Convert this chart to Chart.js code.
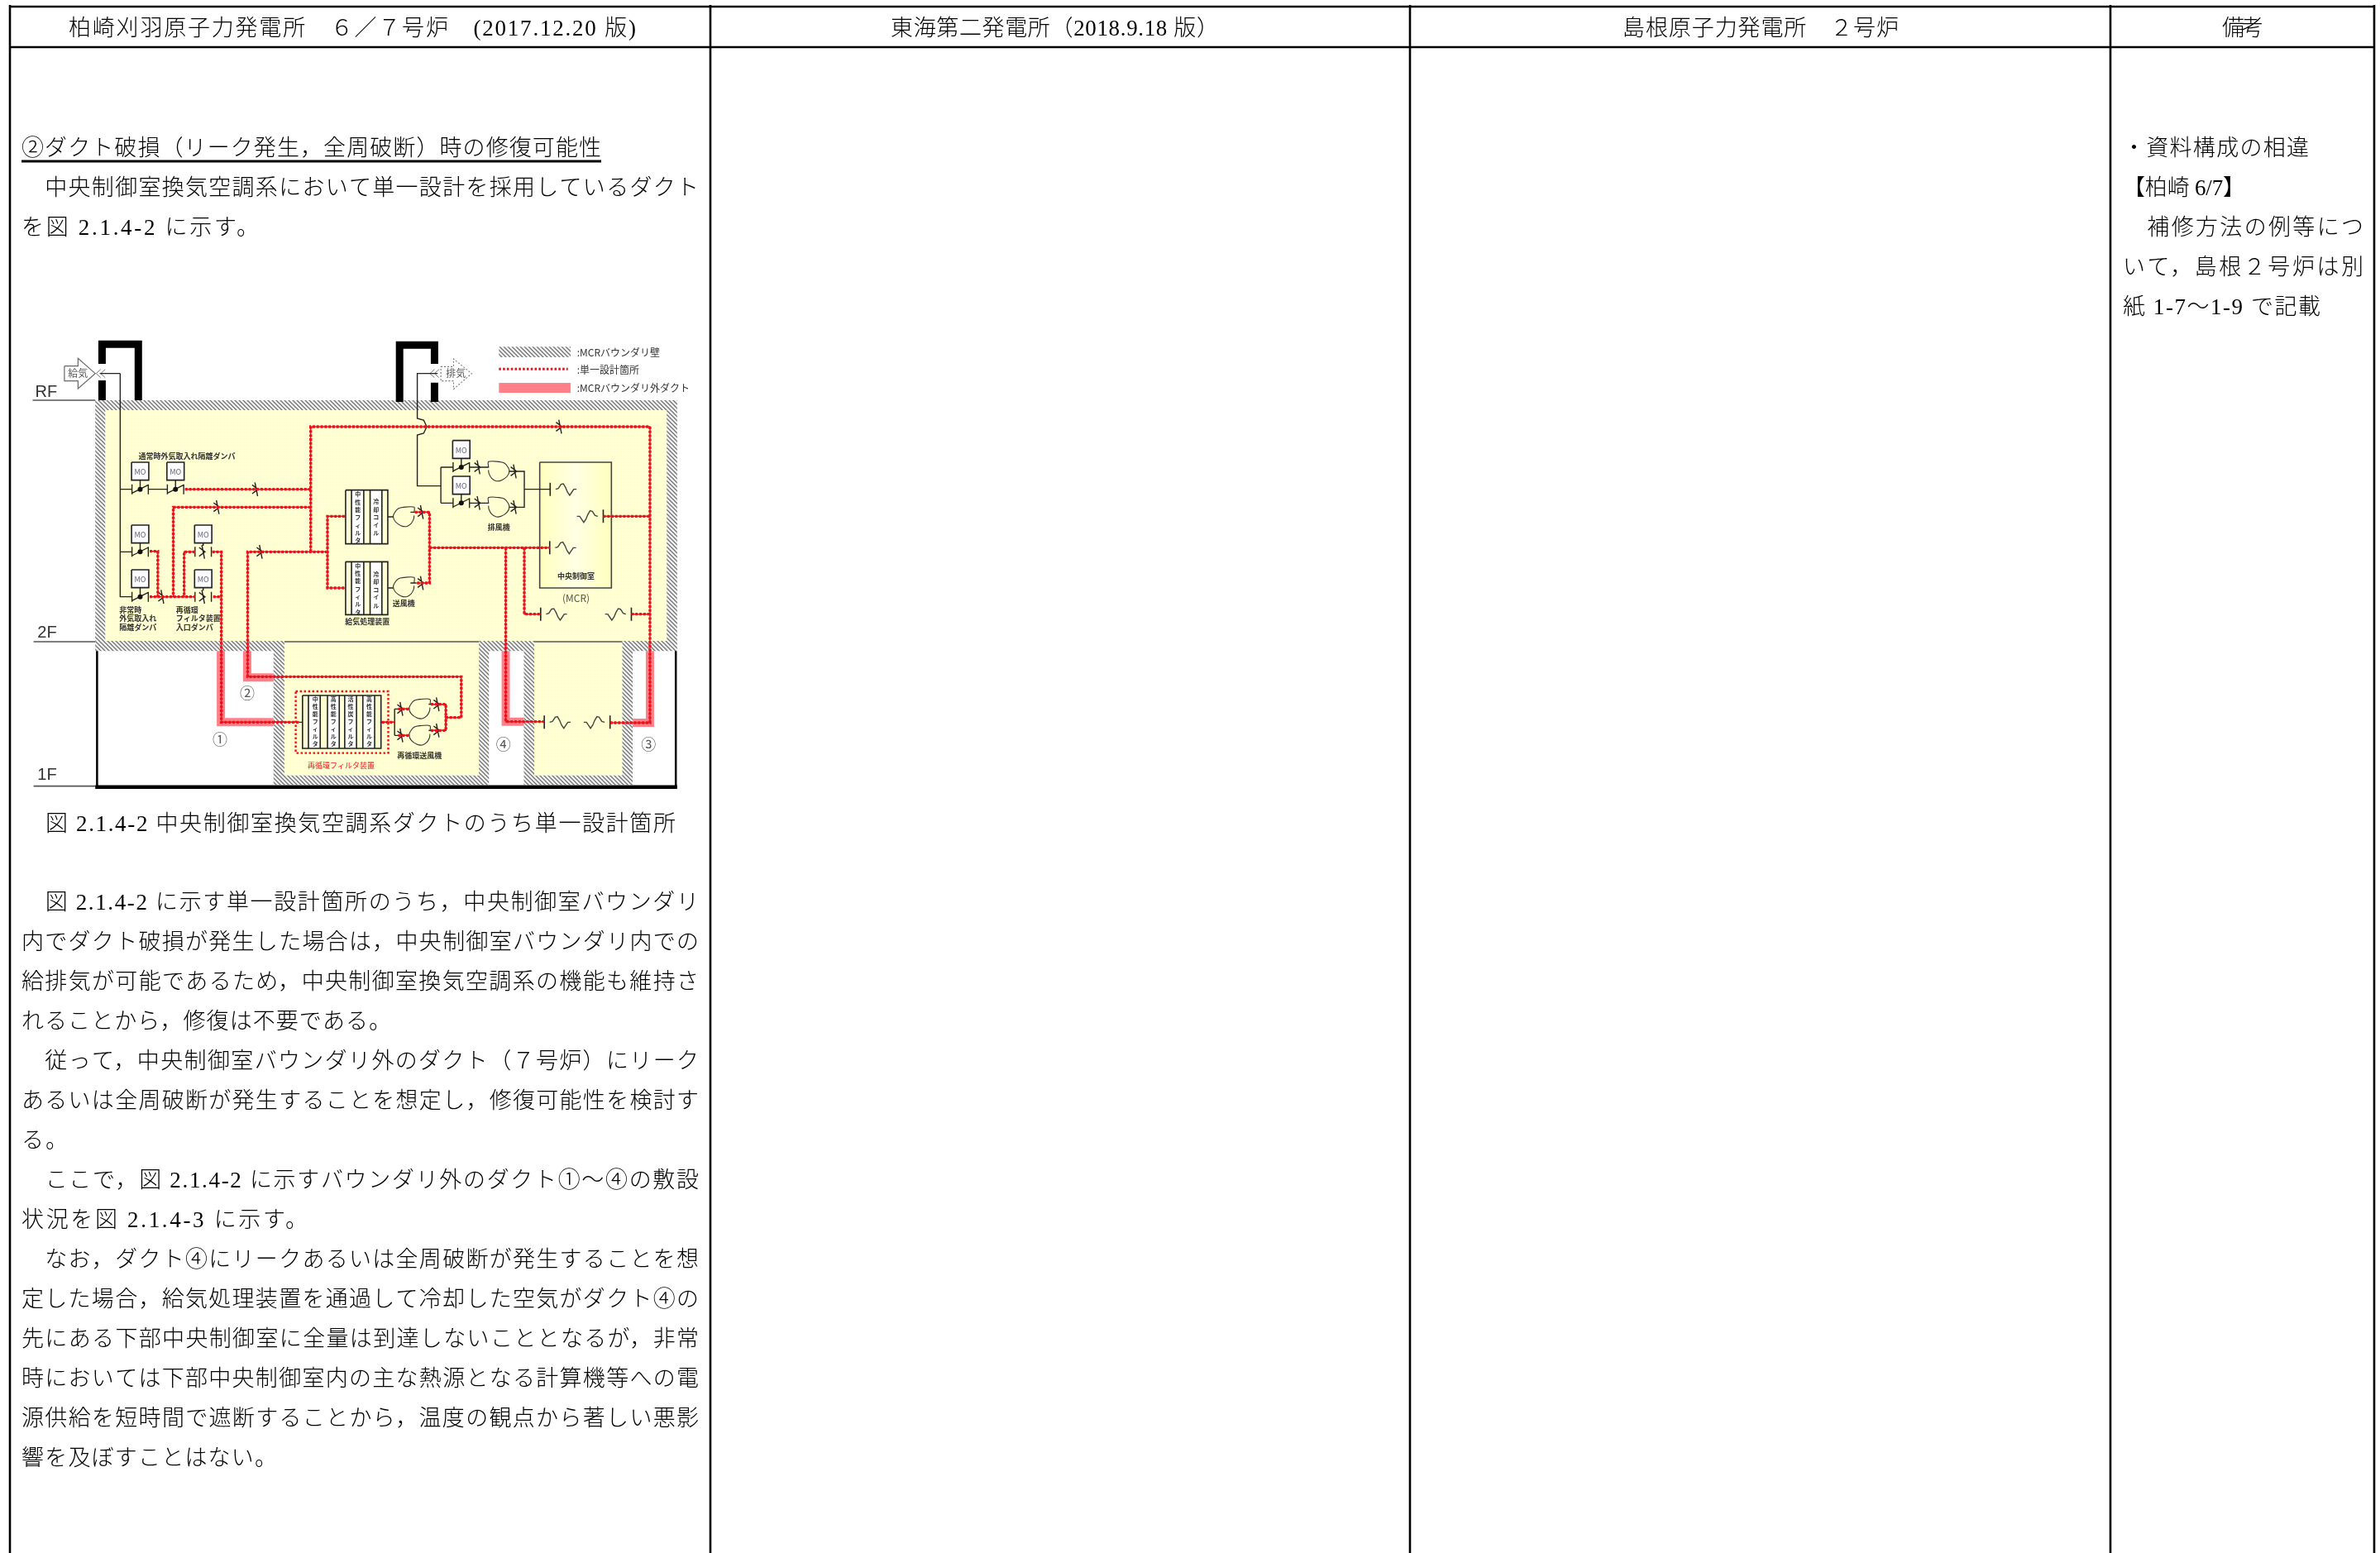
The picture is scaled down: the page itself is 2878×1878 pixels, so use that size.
<!DOCTYPE html>
<html lang="ja">
<head>
<meta charset="utf-8">
<title>中央制御室換気空調系ダクト</title>
<script src="https://cdn.jsdelivr.net/npm/chart.js@4/dist/chart.umd.min.js"></script>
<style>
  html, body { margin: 0; padding: 0; background: #fff; }
  canvas { display: block; }
</style>
</head>
<body>
<canvas id="sheet" width="2878" height="1878"></canvas>
<script>
'use strict';

// ── Table text ──────────────────────────────────────────────────────────────

const HEADERS = [
  ['柏崎刈羽原子力発電所　６／７号炉　(2017.12.20 版)', 83, 769],
  ['東海第二発電所（2018.9.18 版）', 1077, 1474],
  ['島根原子力発電所　２号炉', 1962, 2296],
  ['備考', 2687, 2737],
];

const HEADING = '②ダクト破損（リーク発生，全周破断）時の修復可能性';
const CAPTION = '図 2.1.4-2 中央制御室換気空調系ダクトのうち単一設計箇所';

// [row, text, right end of the line], rows are 48px apart
const BODY_LINES = [
  [1,  '　中央制御室換気空調系において単一設計を採用しているダクト', 845],
  [2,  'を図 2.1.4-2 に示す。', 313],
  [19, '　図 2.1.4-2 に示す単一設計箇所のうち，中央制御室バウンダリ', 845],
  [20, '内でダクト破損が発生した場合は，中央制御室バウンダリ内での', 845],
  [21, '給排気が可能であるため，中央制御室換気空調系の機能も維持さ', 845],
  [22, 'れることから，修復は不要である。', 473],
  [23, '　従って，中央制御室バウンダリ外のダクト（７号炉）にリーク', 845],
  [24, 'あるいは全周破断が発生することを想定し，修復可能性を検討す', 845],
  [25, 'る。', 82],
  [26, '　ここで，図 2.1.4-2 に示すバウンダリ外のダクト①～④の敷設', 845],
  [27, '状況を図 2.1.4-3 に示す。', 372],
  [28, '　なお，ダクト④にリークあるいは全周破断が発生することを想', 845],
  [29, '定した場合，給気処理装置を通過して冷却した空気がダクト④の', 845],
  [30, '先にある下部中央制御室に全量は到達しないこととなるが，非常', 845],
  [31, '時においては下部中央制御室内の主な熱源となる計算機等への電', 845],
  [32, '源供給を短時間で遮断することから，温度の観点から著しい悪影', 845],
  [33, '響を及ぼすことはない。', 335],
];

const REMARK_LINES = [
  [0, '・資料構成の相違', 2792],
  [1, '【柏崎 6/7】', 2715],
  [2, '　補修方法の例等につ', 2858],
  [3, 'いて，島根２号炉は別', 2858],
  [4, '紙 1-7～1-9 で記載', 2806],
];

// ── Diagram labels (diagram units) ──────────────────────────────────────────

const FLOOR_LABELS = [['RF', 102, 282], ['2F', 104, 1155], ['1F', 104, 1672]];
const CIRCLED = [['①', 485, 1542], ['②', 545, 1375], ['④', 1110, 1560], ['③', 1430, 1560]];
const LEGEND_LABELS = [[':MCRバウンダリ壁', 1272, 140], [':単一設計箇所', 1272, 202], [':MCRバウンダリ外ダクト', 1272, 267]];
const CENTER_LABELS = [
  ['通常時外気取入れ隔離ダンパ', 412, 515],
  ['排風機', 1100, 772],
  ['送風機', 890, 1050],
  ['給気処理装置', 810, 1115],
  ['中央制御室', 1270, 950],
  ['再循環送風機', 925, 1600],
];
const LARGE_LABELS = [['給気', 172, 215], ['排気', 1005, 215], ['(MCR)', 1270, 1030]];
const SIDE_LABELS = [
  ['非常時', 263, 1072], ['外気取入れ', 263, 1103], ['隔離ダンパ', 263, 1136],
  ['再循環', 388, 1072], ['フィルタ装置', 388, 1103], ['入口ダンパ', 388, 1136],
];
const RED_LABEL = ['再循環フィルタ装置', 752, 1637];
// [text, x, first y, step]
const VERTICAL_LABELS = [
  ['中性能フィルタ', 789, 653, 28], ['冷却コイル', 829, 680, 28.5],
  ['中性能フィルタ', 789, 912, 28], ['冷却コイル', 829, 942, 28.5],
  ['中性能フィルタ', 695, 1397, 27], ['高性能フィルタ', 735, 1397, 27],
  ['活性炭フィルタ', 773, 1397, 27], ['高性能フィルタ', 814, 1397, 27],
];

// ── Diagram geometry (diagram units) ────────────────────────────────────────

const WALL_RECTS = [
  [210, 312, 1493, 1222],
  [603, 1185, 1078, 1708],
  [1155, 1185, 1395, 1708],
];
const ROOM_RECTS = [
  [232, 348, 1470, 1185],
  [627, 1185, 1056, 1673],
  [1178, 1185, 1372, 1673],
];
const MCR_RECT = [1190, 537, 1348, 993];
const WHITE_RECTS = [
  [775, 638, 802, 833], [816, 638, 842, 833],
  [775, 898, 802, 1090], [816, 898, 842, 1090],
  [680, 1383, 706, 1575], [722, 1383, 748, 1575],
  [760, 1383, 786, 1575], [800, 1383, 826, 1575],
];
const FILTER_BOXES = [[762, 638, 855, 833], [762, 898, 855, 1090], [667, 1383, 840, 1575]];

const PINK_DUCTS = [
  [[487, 1222], [487, 1480], [603, 1480]],
  [[545, 1222], [545, 1318], [603, 1318]],
  [[1115, 1222], [1115, 1478], [1155, 1478]],
  [[1433, 1222], [1433, 1482], [1395, 1482]],
];
const LEGEND_PINK = [[1100, 267], [1258, 267]];
const LEGEND_HATCH = [1100, 118, 1258, 156];
const LEGEND_RED = [[1100, 199], [1252, 199]];

const RED_DUCTS = [
  [[685, 862], [685, 408], [1433, 408], [1433, 1482], [1345, 1482]],
  [[408, 635], [685, 635]],
  [[685, 700], [382, 700], [382, 1025]],
  [[330, 860], [348, 860], [348, 1025]],
  [[330, 1025], [430, 1025]],
  [[430, 862], [406, 862], [406, 1025]],
  [[468, 862], [488, 862], [488, 1480], [660, 1480]],
  [[470, 1025], [488, 1025]],
  [[722, 862], [546, 862], [546, 1315], [1017, 1315], [1017, 1463], [985, 1463]],
  [[760, 733], [722, 733], [722, 993], [760, 993]],
  [[915, 718], [947, 718], [947, 975], [918, 975]],
  [[947, 847], [1212, 847]],
  [[1115, 847], [1115, 1478], [1200, 1478]],
  [[1156, 847], [1156, 1088], [1192, 1088]],
  [[1330, 733], [1433, 733]],
  [[1392, 1088], [1433, 1088]],
  [[842, 1480], [870, 1480]],
  [[878, 1432], [903, 1432]],
  [[878, 1528], [903, 1528]],
  [[950, 1415], [983, 1415], [983, 1463]],
  [[950, 1510], [983, 1510], [983, 1463], [1017, 1463]],
];
const RED_FILTER_BOX = [[652, 1368], [856, 1368], [856, 1592], [652, 1592], [652, 1368]];

const THIN_LINES = [
  [[265, 215], [220, 215]], [[265, 215], [265, 1025], [290, 1025]],
  [[265, 635], [290, 635]], [[327, 635], [368, 635]], [[265, 862], [290, 862]],
  [[965, 215], [920, 215], [920, 378], [934, 384], [941, 408], [934, 432], [920, 438], [920, 623], [972, 623]],
  [[972, 555], [972, 685]], [[972, 555], [998, 555]], [[972, 685], [998, 685]],
  [[1035, 555], [1078, 555]], [[1035, 685], [1078, 685]],
  [[1122, 570], [1156, 570], [1156, 700], [1122, 700]], [[1156, 635], [1213, 635]],
  [[855, 735], [868, 735]], [[855, 993], [868, 993]],
  [[905, 718], [915, 718]], [[905, 975], [918, 975]],
  [[603, 1480], [667, 1480]], [[840, 1480], [870, 1480]], [[870, 1432], [870, 1528]],
  [[870, 1432], [903, 1432]], [[870, 1528], [903, 1528]],
  [[945, 1415], [983, 1415], [983, 1510], [945, 1510]],
];
// louvres in the chimney openings
const LOUVRES = [
  [[232, 200], [222, 215], [232, 230]], [[222, 200], [212, 215], [222, 230]],
  [[968, 200], [958, 215], [968, 230]], [[958, 200], [948, 215], [958, 230]],
];

// [box centre x, box top, duct y]
const MOTOR_DAMPERS = [[309, 537, 635], [387, 537, 635], [309, 765, 862], [309, 927, 1025], [1017, 458, 555], [1017, 588, 685]];
const INLET_DAMPERS = [[448, 765, 862], [448, 927, 1025]];
const CHECK_DAMPERS = [
  [565, 635], [480, 700], [358, 1025], [575, 862], [1235, 408], [930, 718], [930, 975],
  [1055, 555], [1135, 570], [1055, 685], [1135, 700],
  [885, 1432], [965, 1415], [885, 1528], [965, 1510],
];
// [centre x, centre y, direction]
const FANS = [[1100, 570, 1], [1100, 700, 1], [890, 735, -1], [890, 990, -1], [925, 1432, -1], [925, 1528, -1]];
// [x, y, direction]
const DIFFUSERS = [[1213, 635, 1], [1330, 733, -1], [1212, 847, 1], [1192, 1088, 1], [1392, 1088, -1], [1200, 1480, 1], [1345, 1480, -1]];

const SUPPLY_ARROW = [[142, 188], [172, 188], [172, 160], [210, 215], [172, 270], [172, 242], [142, 242], [142, 188]];
const EXHAUST_ARROW = [[972, 190], [1000, 190], [1000, 162], [1040, 215], [1000, 272], [1000, 242], [972, 242], [972, 190]];

const FAN_SHAPE = [[-23, -15], [-23, -35], [0, -35], [12, -30], [20, -15], [23, 0], [18, 18], [6, 32], [-6, 35], [-16, 25], [-22, 8], [-23, -5]];
const WAVE_SHAPE = [[12, 0], [18, -3], [24, -18], [29, -20], [34, -6], [38, 10], [43, 22], [48, 10], [52, 0], [58, 0]];
const CHECK_SHAPE = [[[-3, -25], [3, 25]], [[-9, -16], [4, 0], [-9, 16]]];

// ── Page table (page pixels) ────────────────────────────────────────────────

const COLUMN_LINES = [12, 859, 1705, 2552, 2871];
const ROW_LINES = [8, 57];

// ── Helpers ─────────────────────────────────────────────────────────────────

const rect = r => [[r[0], r[1]], [r[2], r[1]], [r[2], r[3]], [r[0], r[3]], [r[0], r[1]]];
const place = (shape, cx, cy, dir = 1) => shape.map(p => [cx + dir * p[0], cy + p[1]]);

function toPoints(paths) {
  const pts = [];
  paths.forEach(path => {
    path.forEach(p => pts.push({ x: p[0], y: p[1] }));
    pts.push({ x: null, y: null });
  });
  return pts;
}

function pattern(size, paint) {
  const c = document.createElement('canvas');
  c.width = c.height = size;
  const g = c.getContext('2d');
  paint(g);
  return g.createPattern(c, 'repeat');
}

const HATCH = pattern(5, g => {
  g.fillStyle = '#f6f6f6';
  g.fillRect(0, 0, 5, 5);
  g.strokeStyle = '#747474';
  g.lineWidth = 1.3;
  [[-1, -1, 6, 6], [-1, 4, 1, 6], [4, -1, 6, 1]].forEach(s => {
    g.beginPath(); g.moveTo(s[0], s[1]); g.lineTo(s[2], s[3]); g.stroke();
  });
});

const YELLOW = pattern(4, g => {
  g.fillStyle = '#ffffc6';
  g.fillRect(0, 0, 4, 4);
  g.fillStyle = '#ffffd8';
  g.fillRect(0, 0, 4, 1);
  g.fillRect(0, 0, 1, 4);
});

function lineSet(paths, color, width, extra = {}) {
  return {
    data: toPoints(paths),
    showLine: true,
    spanGaps: false,
    pointRadius: 0,
    borderColor: color,
    borderWidth: width,
    borderCapStyle: 'butt',
    borderJoinStyle: 'miter',
    tension: 0,
    fill: false,
    xAxisID: 'dx',
    yAxisID: 'dy',
    ...extra,
  };
}

function areaSet(r, fillStyle) {
  return lineSet([rect(r)], 'transparent', 0, { fill: 'shape', backgroundColor: fillStyle });
}

// ── Layers, painted in this order ───────────────────────────────────────────

function buildLayers() {
  const mcrFill = document.getElementById('sheet').getContext('2d').createLinearGradient(652, 0, 740, 0);
  mcrFill.addColorStop(0, '#ffffbe');
  mcrFill.addColorStop(0.5, '#ffffe4');
  mcrFill.addColorStop(1, '#ffffbe');

  const layers = [];
  WALL_RECTS.forEach(r => layers.push(areaSet(r, HATCH)));
  ROOM_RECTS.forEach(r => layers.push(areaSet(r, YELLOW)));
  layers.push(areaSet(LEGEND_HATCH, HATCH));
  layers.push(areaSet(MCR_RECT, mcrFill));
  layers.push(lineSet([rect(MCR_RECT)], '#444', 1.6));

  // floor lines, shell and chimneys
  layers.push(lineSet([[[72, 312], [210, 312]], [[74, 1188], [210, 1188]], [[74, 1712], [210, 1712]],
    [[627, 1188], [1056, 1188]], [[1178, 1188], [1372, 1188]]], '#555', 1.6));
  layers.push(lineSet([[[214, 1222], [214, 1718]], [[1490, 1222], [1490, 1718]]], '#000', 2.5));
  layers.push(lineSet([[[210, 1715], [1493, 1715]]], '#000', 4.5));
  layers.push(lineSet([
    [[225, 180], [225, 109], [305, 109], [305, 312]], [[225, 240], [225, 312]],
    [[881, 318], [881, 112], [958, 112], [958, 180]], [[958, 248], [958, 318]],
  ], '#000', 9));
  layers.push(lineSet(LOUVRES, '#777', 1));

  layers.push(lineSet(PINK_DUCTS, '#ff8088', 10));
  layers.push(lineSet([LEGEND_PINK], '#ff8088', 12));

  // equipment
  WHITE_RECTS.forEach(r => layers.push(areaSet(r, '#fff')));
  MOTOR_DAMPERS.concat(INLET_DAMPERS).forEach(d => layers.push(areaSet([d[0] - 19, d[1], d[0] + 19, d[1] + 65], '#fbfbff')));

  const thin = THIN_LINES.slice();
  MOTOR_DAMPERS.forEach(d => {
    thin.push([[d[0], d[1] + 65], [d[0], d[2]]]);
    thin.push([[d[0] - 18, d[2] - 18], [d[0] - 18, d[2] + 18]], [[d[0] + 18, d[2] - 18], [d[0] + 18, d[2] + 18]]);
    thin.push([[d[0] - 18, d[2] + 14], [d[0] + 18, d[2] - 16]]);
  });
  INLET_DAMPERS.forEach(d => {
    thin.push([[d[0], d[1] + 65], [d[0], d[2] - 22]]);
    thin.push([[d[0] - 18, d[2] - 18], [d[0] - 18, d[2] + 18]], [[d[0] + 18, d[2] - 18], [d[0] + 18, d[2] + 18]]);
    CHECK_SHAPE.forEach(s => thin.push(place(s, d[0], d[2])));
  });
  CHECK_DAMPERS.forEach(d => CHECK_SHAPE.forEach(s => thin.push(place(s, d[0], d[1]))));

  const boxes = FILTER_BOXES.map(rect);
  [[775, 638, 833], [802, 638, 833], [816, 638, 833], [842, 638, 833],
   [775, 898, 1090], [802, 898, 1090], [816, 898, 1090], [842, 898, 1090],
   [680, 1383, 1575], [706, 1383, 1575], [722, 1383, 1575], [748, 1383, 1575],
   [760, 1383, 1575], [786, 1383, 1575], [800, 1383, 1575], [826, 1383, 1575]]
    .forEach(c => boxes.push([[c[0], c[1]], [c[0], c[2]]]));
  MOTOR_DAMPERS.concat(INLET_DAMPERS).forEach(d => boxes.push(rect([d[0] - 19, d[1], d[0] + 19, d[1] + 65])));

  layers.push(lineSet(boxes, '#222', 1.6));
  layers.push(lineSet(thin, '#222', 1.4));
  layers.push(lineSet(FANS.map(f => place(FAN_SHAPE, f[0], f[1], f[2])), '#333', 1.1, { tension: 0.3 }));

  const diffusers = [];
  DIFFUSERS.forEach(d => {
    diffusers.push(place(WAVE_SHAPE, d[0], d[1], d[2]));
  });
  layers.push(lineSet(diffusers, '#444', 1.4));
  layers.push(lineSet(DIFFUSERS.map(d => [[d[0], d[1] - 24], [d[0], d[1] + 24]]), '#222', 1.6));

  // red single design route
  layers.push(lineSet(RED_DUCTS, '#c22', 1.5));
  layers.push(lineSet(RED_DUCTS, '#f0101c', 3.4, { borderDash: [3, 1.8] }));
  layers.push(lineSet([RED_FILTER_BOX], '#f0101c', 2.4, { borderDash: [2.5, 2.5] }));
  layers.push(lineSet([LEGEND_RED], '#f0101c', 3, { borderDash: [2.6, 2.2] }));

  // motor damper pivots
  layers.push({
    data: MOTOR_DAMPERS.map(d => ({ x: d[0], y: d[2] })),
    showLine: false,
    pointRadius: 3,
    pointBackgroundColor: '#111',
    pointBorderWidth: 0,
    xAxisID: 'dx',
    yAxisID: 'dy',
  });

  // arrows
  layers.push(lineSet([SUPPLY_ARROW], '#666', 1.2, { fill: 'shape', backgroundColor: '#fff' }));
  layers.push(lineSet([EXHAUST_ARROW], '#777', 1.1, { fill: 'shape', backgroundColor: '#fff', borderDash: [2, 2] }));

  // page table rules
  const rules = COLUMN_LINES.map(x => [[x, 6], [x, 1878]]).concat(ROW_LINES.map(y => [[COLUMN_LINES[0], y], [COLUMN_LINES[4], y]]));
  layers.push(lineSet(rules, '#000', 2.6, { xAxisID: 'x', yAxisID: 'y' }));
  layers.push(lineSet([[[26, 195], [727, 195]]], '#000', 3, { xAxisID: 'x', yAxisID: 'y' }));

  return layers;
}

// ── Text plugin ─────────────────────────────────────────────────────────────

const BODY_FONT = '300 27px "Liberation Serif", "Noto Sans CJK JP"';
const LABEL_FAMILY = '"Noto Sans CJK JP"';

// left aligned text stretched to end at endX
function fitText(ctx, text, x, y, endX) {
  ctx.letterSpacing = '0px';
  ctx.textAlign = 'left';
  const natural = ctx.measureText(text).width;
  ctx.letterSpacing = ((endX - x - natural) / (text.length - 1)).toFixed(3) + 'px';
  ctx.fillText(text, x, y);
  ctx.letterSpacing = '0px';
}

const textPlugin = {
  id: 'sheetText',
  afterDraw(chart) {
    const { ctx, scales } = chart;
    const px = v => scales.x.getPixelForValue(v);
    const py = v => scales.y.getPixelForValue(v);
    const ux = v => scales.dx.getPixelForValue(v);
    const uy = v => scales.dy.getPixelForValue(v);

    ctx.save();
    ctx.textBaseline = 'middle';

    // table text
    ctx.fillStyle = '#000';
    ctx.font = BODY_FONT;
    HEADERS.forEach(h => fitText(ctx, h[0], px(h[1]), py(36), px(h[2])));
    fitText(ctx, HEADING, px(26), py(181), px(727));
    fitText(ctx, CAPTION, px(55), py(998), px(817));
    BODY_LINES.forEach(l => fitText(ctx, l[1], px(26), py(181 + 48 * l[0]), px(l[2])));
    REMARK_LINES.forEach(l => fitText(ctx, l[1], px(2567), py(181 + 48 * l[0]), px(l[2])));

    // diagram text
    ctx.textAlign = 'center';
    ctx.fillStyle = '#333';
    ctx.font = '20px "Liberation Sans"';
    FLOOR_LABELS.forEach(l => ctx.fillText(l[0], ux(l[1]), uy(l[2])));
    ctx.font = '18px ' + LABEL_FAMILY;
    ctx.fillStyle = '#555';
    CIRCLED.forEach(l => ctx.fillText(l[0], ux(l[1]), uy(l[2])));

    ctx.font = '12px ' + LABEL_FAMILY;
    LARGE_LABELS.forEach(l => ctx.fillText(l[0], ux(l[1]), uy(l[2])));

    ctx.font = 'bold 9px ' + LABEL_FAMILY;
    ctx.fillStyle = '#333';
    CENTER_LABELS.forEach(l => ctx.fillText(l[0], ux(l[1]), uy(l[2])));
    ctx.font = '9px ' + LABEL_FAMILY;
    ctx.fillStyle = '#f0101c';
    ctx.fillText(RED_LABEL[0], ux(RED_LABEL[1]), uy(RED_LABEL[2]));
    ctx.fillStyle = '#667';
    MOTOR_DAMPERS.concat(INLET_DAMPERS).forEach(d => ctx.fillText('MO', ux(d[0]), uy(d[1] + 35)));
    ctx.fillStyle = '#333';
    ctx.font = 'bold 7px ' + LABEL_FAMILY;
    VERTICAL_LABELS.forEach(v => {
      Array.from(v[0]).forEach((ch, i) => ctx.fillText(ch, ux(v[1]), uy(v[2] + i * v[3])));
    });

    ctx.textAlign = 'left';
    ctx.font = 'bold 9px ' + LABEL_FAMILY;
    SIDE_LABELS.forEach(l => ctx.fillText(l[0], ux(l[1]), uy(l[2])));
    ctx.font = '12px ' + LABEL_FAMILY;
    LEGEND_LABELS.forEach(l => ctx.fillText(l[0], ux(l[1]), uy(l[2])));
    ctx.restore();
  },
};

// ── Main ────────────────────────────────────────────────────────────────────

const hidden = (axis, min, max, reverse) => ({ type: 'linear', axis, min, max, reverse, display: false });

new Chart(document.getElementById('sheet'), {
  type: 'scatter',
  data: { datasets: buildLayers().reverse() },
  options: {
    responsive: false,
    animation: false,
    events: [],
    layout: { padding: 0, autoPadding: false },
    plugins: { legend: { display: false }, title: { display: false }, tooltip: { enabled: false } },
    scales: {
      x: hidden('x', 0, 2878, false),
      y: hidden('y', 0, 1878, true),
      dx: hidden('x', 0, 2878 * 1568 / 860, false),
      dy: hidden('y', -1140, 4494, true),
    },
  },
  plugins: [textPlugin],
});
</script>
</body>
</html>
